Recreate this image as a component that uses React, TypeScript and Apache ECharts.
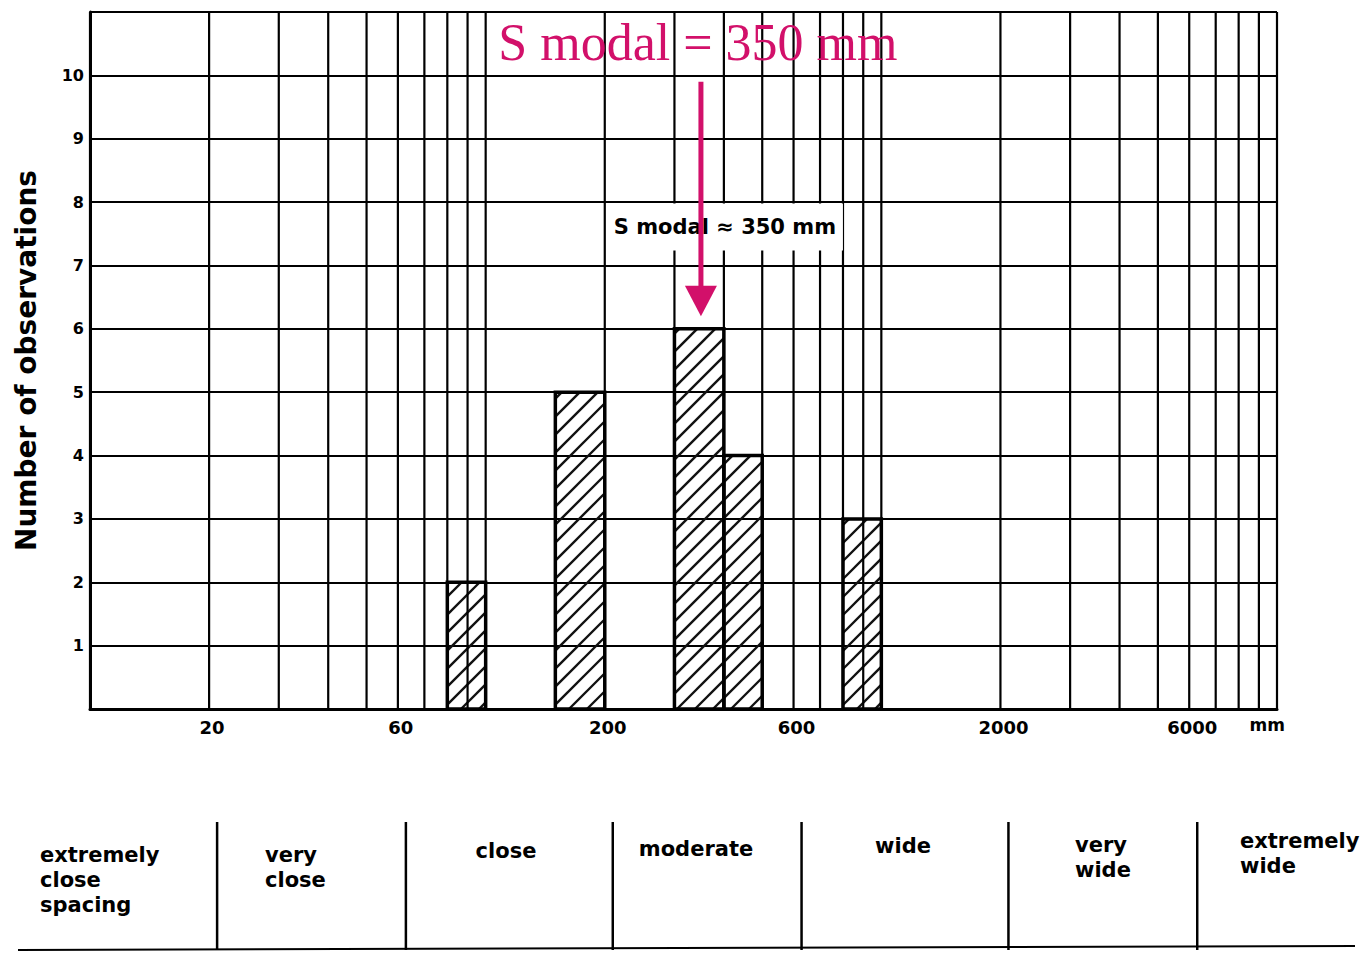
import React, { useEffect, useRef } from "react";
import * as echarts from "echarts";

// ---- data ----
const binLow = [80, 150, 300, 400, 800];
const binHigh = [100, 200, 400, 500, 1000];
const observations = [2, 5, 6, 4, 3];

const gridLinesMm = [
  10, 20, 30, 40, 50, 60, 70, 80, 90,
  100, 200, 300, 400, 500, 600, 700, 800, 900,
  1000, 2000, 3000, 4000, 5000, 6000, 7000, 8000, 9000, 10000,
];
const xTickLabels = [20, 60, 200, 600, 2000, 6000];
const yTickLabels = [1, 2, 3, 4, 5, 6, 7, 8, 9, 10];
const classBounds = [20, 60, 200, 600, 2000, 6000];
const classNames = [
  "extremely\nclose\nspacing",
  "very\nclose",
  "close",
  "moderate",
  "wide",
  "very\nwide",
  "extremely\nwide",
];
const modalSpacing = 350;
const bigTitle = "S modal = 350 mm";
const smallTitle = "S modal ≈ 350 mm";

const MAGENTA = "#D2106A";
const SANS = "'DejaVu Sans', 'Liberation Sans', sans-serif";

export default function App() {
  const ref = useRef<HTMLDivElement>(null);

  useEffect(() => {
    if (!ref.current) return;
    const chart = echarts.init(ref.current, undefined, { renderer: "svg" });

    const classPos: Array<[number, number, string]> = [
      [40, 842, "left"],
      [265, 842, "left"],
      [506, 838, "center"],
      [696, 836, "center"],
      [903, 833, "center"],
      [1075, 832, "left"],
      [1240, 828, "left"],
    ];

    const option: any = {
      animation: false,
      backgroundColor: "#fff",
      grid: [
        { left: 90, right: 85, top: 12, bottom: 246, outerBoundsMode: "none", containLabel: false },
        { left: 98, right: 77, top: 822, bottom: 5, outerBoundsMode: "none", containLabel: false },
      ],
      xAxis: [
        {
          type: "log",
          logBase: 10,
          min: 10,
          max: 10000,
          gridIndex: 0,
          axisLine: { show: true, lineStyle: { color: "#000", width: 3 } },
          axisTick: { show: false },
          axisLabel: { show: false },
          splitLine: { show: false },
          name: "mm",
          nameLocation: "end",
          nameGap: 8,
          nameTextStyle: {
            fontFamily: SANS,
            fontWeight: "bold",
            fontSize: 17,
            color: "#000",
            align: "right",
            verticalAlign: "top",
            padding: [7, 0, 0, 0],
          },
        },
        {
          type: "log",
          logBase: 10,
          min: 10,
          max: 10000,
          gridIndex: 1,
          show: false,
        },
      ],
      yAxis: [
        {
          type: "value",
          min: 0,
          max: 11,
          interval: 1,
          gridIndex: 0,
          axisLine: { show: true, lineStyle: { color: "#000", width: 3 } },
          axisTick: { show: false },
          axisLabel: {
            margin: 6,
            fontFamily: SANS,
            fontWeight: "bold",
            fontSize: 16,
            color: "#000",
            formatter: (v: number) => (yTickLabels.indexOf(v) >= 0 ? String(v) : ""),
          },
          splitLine: { show: true, lineStyle: { color: "#000", width: 2 } },
          name: "Number of observations",
          nameLocation: "middle",
          nameRotate: 90,
          nameGap: 50,
          nameTextStyle: {
            fontFamily: SANS,
            fontWeight: "bold",
            fontSize: 28,
            color: "#000",
          },
        },
        { type: "value", min: 0, max: 1, gridIndex: 1, show: false },
      ],
      series: [
        // hatched histogram bars
        {
          type: "custom",
          xAxisIndex: 0,
          yAxisIndex: 0,
          z: 2,
          clip: false,
          encode: { x: [0, 1], y: 2 },
          data: binLow.map((lo, i) => [lo, binHigh[i], observations[i]]),
          renderItem: (params: any, api: any) => {
            const lo = api.value(0);
            const hi = api.value(1);
            const n = api.value(2);
            const p0 = api.coord([lo, n]);
            const p1 = api.coord([hi, 0]);
            const x0 = p0[0], yTop = p0[1], x1 = p1[0], yBot = p1[1];
            const children: any[] = [];
            const s = 18;
            const cStart = Math.ceil((x0 + yTop) / s) * s;
            for (let c = cStart; c <= x1 + yBot; c += s) {
              const xa = Math.max(x0, c - yBot);
              const xb = Math.min(x1, c - yTop);
              if (xb - xa > 0.5) {
                children.push({
                  type: "line",
                  shape: { x1: xa, y1: c - xa, x2: xb, y2: c - xb },
                  style: { stroke: "#111", lineWidth: 2.4 },
                });
              }
            }
            children.push({
              type: "rect",
              shape: { x: x0, y: yTop, width: x1 - x0, height: yBot - yTop },
              style: { fill: "none", stroke: "#000", lineWidth: 3.5 },
            });
            return { type: "group", children };
          },
        },
        // vertical log-paper grid lines
        {
          type: "custom",
          xAxisIndex: 0,
          yAxisIndex: 0,
          z: 3,
          clip: false,
          encode: { x: 0, y: 1 },
          data: gridLinesMm.map((v) => [v, 0]),
          renderItem: (params: any, api: any) => {
            const v = api.value(0);
            const a = api.coord([v, 0]);
            const b = api.coord([v, 11]);
            return {
              type: "line",
              shape: { x1: a[0], y1: a[1], x2: b[0], y2: b[1] },
              style: { stroke: "#000", lineWidth: 2.2 },
            };
          },
        },
        // x tick labels
        {
          type: "custom",
          xAxisIndex: 0,
          yAxisIndex: 0,
          z: 3,
          clip: false,
          encode: { x: 0, y: 1 },
          data: xTickLabels.map((v) => [v, 0]),
          renderItem: (params: any, api: any) => {
            const v = api.value(0);
            const a = api.coord([v, 0]);
            return {
              type: "text",
              style: {
                text: String(v),
                x: a[0] + 3,
                y: a[1] + 18,
                align: "center",
                verticalAlign: "middle",
                fontFamily: SANS,
                fontWeight: "bold",
                fontSize: 18,
                fill: "#000",
              },
            };
          },
        },
        // modal annotation
        {
          type: "custom",
          xAxisIndex: 0,
          yAxisIndex: 0,
          z: 10,
          clip: false,
          encode: { x: 0, y: 1 },
          data: [[modalSpacing, 0]],
          renderItem: (params: any, api: any) => {
            const v = api.value(0);
            const x = api.coord([v, 0])[0];
            const yLabel = api.coord([v, 7.6])[1];
            const yArrowTop = api.coord([v, 9.9])[1];
            const yHead = api.coord([v, 6.68])[1];
            const yTip = api.coord([v, 6.2])[1];
            const yBig = api.coord([v, 10.52])[1];
            return {
              type: "group",
              children: [
                {
                  type: "rect",
                  shape: { x: x - 88, y: yLabel - 24, width: 230, height: 47 },
                  style: { fill: "#fff" },
                },
                {
                  type: "text",
                  style: {
                    text: smallTitle,
                    x: x + 24,
                    y: yLabel,
                    align: "center",
                    verticalAlign: "middle",
                    fontFamily: SANS,
                    fontWeight: "bold",
                    fontSize: 21,
                    fill: "#000",
                  },
                },
                {
                  type: "line",
                  shape: { x1: x, y1: yArrowTop, x2: x, y2: yHead + 2 },
                  style: { stroke: MAGENTA, lineWidth: 5 },
                },
                {
                  type: "polygon",
                  shape: {
                    points: [
                      [x - 16, yHead],
                      [x + 16, yHead],
                      [x, yTip],
                    ],
                  },
                  style: { fill: MAGENTA },
                },
                {
                  type: "text",
                  style: {
                    text: bigTitle,
                    x: x - 3,
                    y: yBig,
                    align: "center",
                    verticalAlign: "middle",
                    fontFamily: "'Liberation Serif', 'Times New Roman', serif",
                    fontSize: 52,
                    fill: MAGENTA,
                  },
                },
              ],
            };
          },
        },
        // spacing class separators
        {
          type: "custom",
          xAxisIndex: 1,
          yAxisIndex: 1,
          z: 3,
          clip: false,
          encode: { x: 0, y: 1 },
          data: classBounds.map((v) => [v, 0]),
          renderItem: (params: any, api: any) => {
            const v = api.value(0);
            const a = api.coord([v, 0]);
            const b = api.coord([v, 1]);
            return {
              type: "line",
              shape: { x1: a[0], y1: a[1], x2: b[0], y2: b[1] },
              style: { stroke: "#000", lineWidth: 2.5 },
            };
          },
        },
      ],
      graphic: [
        {
          type: "line",
          shape: { x1: 18, y1: 950, x2: 1355, y2: 946 },
          style: { stroke: "#000", lineWidth: 2 },
          z: 5,
        },
        ...classNames.map((name, i) => ({
          type: "text",
          x: classPos[i][0],
          y: classPos[i][1],
          z: 5,
          style: {
            text: name,
            align: classPos[i][2],
            verticalAlign: "top",
            fontFamily: SANS,
            fontWeight: "bold",
            fontSize: 21,
            lineHeight: 25,
            fill: "#000",
          },
        })),
      ],
    };

    chart.setOption(option);
    return () => chart.dispose();
  }, []);

  return (
    <div
      ref={ref}
      style={{ position: "fixed", left: 0, top: 0, width: 1362, height: 955, background: "#fff" }}
    />
  );
}
